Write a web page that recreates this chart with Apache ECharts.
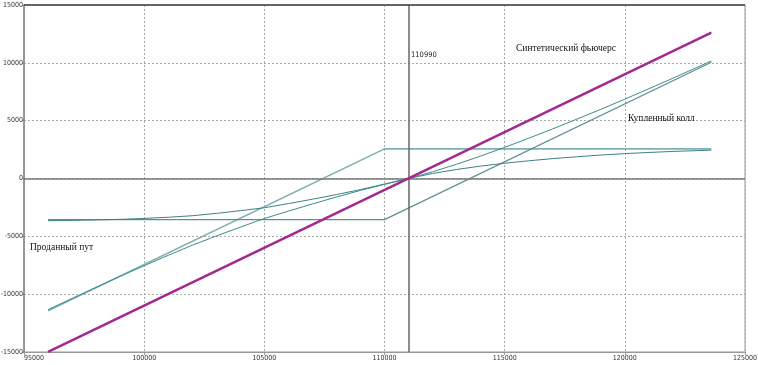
<!DOCTYPE html>
<html><head><meta charset="utf-8">
<script src="https://cdn.jsdelivr.net/npm/echarts@6/dist/echarts.min.js"></script>
<style>html,body{margin:0;padding:0;background:#fff}#c{width:758px;height:365px}</style>
</head><body><div id="c"></div>
<script>
// Values
const strike = 110990;
const synthetic = [[96000, -14990], [123600, 12610]];
const soldPutExpiry = [[96000, -11440], [110000, 2560], [123600, 2560]];
const boughtCallExpiry = [[96000, -3550], [110000, -3550], [123600, 10050]];
const curveA = [[96000,-3650],[97000,-3620],[98000,-3580],[99000,-3530],[100000,-3450],[101000,-3350],[102000,-3220],[103000,-3020],[104000,-2780],[105000,-2530],[106000,-2170],[107000,-1790],[108000,-1390],[109000,-960],[110000,-480],[110990,0],[112000,430],[113000,780],[114000,1070],[115000,1320],[116000,1530],[117000,1720],[118000,1880],[119000,2030],[120000,2150],[121000,2250],[122000,2340],[123000,2410],[123600,2450]];
const curveB = [[96000,-11340],[97000,-10370],[98000,-9410],[99000,-8460],[100000,-7540],[101000,-6640],[102000,-5770],[103000,-4970],[104000,-4210],[105000,-3460],[106000,-2820],[107000,-2200],[108000,-1600],[109000,-1030],[110000,-510],[110990,0],[112000,580],[113000,1230],[114000,1940],[115000,2690],[116000,3480],[117000,4290],[118000,5130],[119000,5980],[120000,6860],[121000,7760],[122000,8670],[123000,9600],[123600,10160]];
const labels = {synthetic: 'Синтетический фьючерс', call: 'Купленный колл', put: 'Проданный пут'};

const chart = echarts.init(document.getElementById('c'), null, {renderer: 'canvas'});
const axisFont = {fontFamily: '"DejaVu Sans Condensed", sans-serif', fontSize: 7, color: '#333', formatter: v => String(v)};
const mk = (data, color, width, z) => ({
  type: 'line', data, showSymbol: false, symbol: 'none', smooth: false, z,
  lineStyle: {color, width}, animation: false
});
const serif = '9.5px "Liberation Serif", serif';
chart.setOption({
  animation: false,
  grid: {left: 24, right: 13, top: 5, bottom: 13, show: true, borderColor: '#999', borderWidth: 1,
         containLabel: false, outerBoundsMode: 'none'},
  xAxis: {
    type: 'value', min: 95000, max: 125000, interval: 5000,
    axisLine: {show: true, onZero: false, lineStyle: {color: '#999'}},
    axisTick: {show: true, length: 3, lineStyle: {color: '#999'}},
    axisLabel: Object.assign({margin: 3, alignMinLabel: 'left', alignMaxLabel: 'center'}, axisFont),
    splitLine: {show: true, lineStyle: {color: '#aaa', type: [2, 2], width: 1}}
  },
  yAxis: {
    type: 'value', min: -15000, max: 15000, interval: 5000,
    axisLine: {show: true, onZero: false, lineStyle: {color: '#888', width: 1.5}},
    axisTick: {show: true, length: 2, lineStyle: {color: '#888'}},
    axisLabel: Object.assign({margin: 1}, axisFont),
    splitLine: {show: true, lineStyle: {color: '#aaa', type: [2, 2], width: 1}}
  },
  series: [
    Object.assign(mk(soldPutExpiry, '#7fb0b2', 1.6, 3), {
      markLine: {
        silent: true, symbol: 'none', animation: false,
        label: {show: false},
        data: [
          {yAxis: 0, lineStyle: {color: '#777', width: 1.5, type: 'solid'}},
          {xAxis: strike, lineStyle: {color: '#666', width: 1.5, type: 'solid'}}
        ]
      }
    }),
    mk(boughtCallExpiry, '#5f8f94', 1.3, 3),
    mk(curveA, '#3f7f86', 1, 4),
    mk(curveB, '#3d8a8c', 1, 4),
    mk(synthetic, '#a3288f', 2.5, 5)
  ],
  graphic: [
    {type: 'line', shape: {x1: 24, y1: 5, x2: 745, y2: 5}, style: {stroke: '#444', lineWidth: 1.5}, z: 10},
    {type: 'text', x: 411, y: 55, style: {text: String(strike), font: '7.5px "DejaVu Sans Condensed"', fill: '#222', verticalAlign: 'middle'}, z: 10},
    {type: 'text', x: 516, y: 48, style: {text: labels.synthetic, font: serif, fill: '#111', verticalAlign: 'middle'}, z: 10},
    {type: 'text', x: 628, y: 118, style: {text: labels.call, font: serif, fill: '#111', verticalAlign: 'middle'}, z: 10},
    {type: 'text', x: 30, y: 247, style: {text: labels.put, font: serif, fill: '#111', verticalAlign: 'middle'}, z: 10}
  ]
});
</script></body></html>
